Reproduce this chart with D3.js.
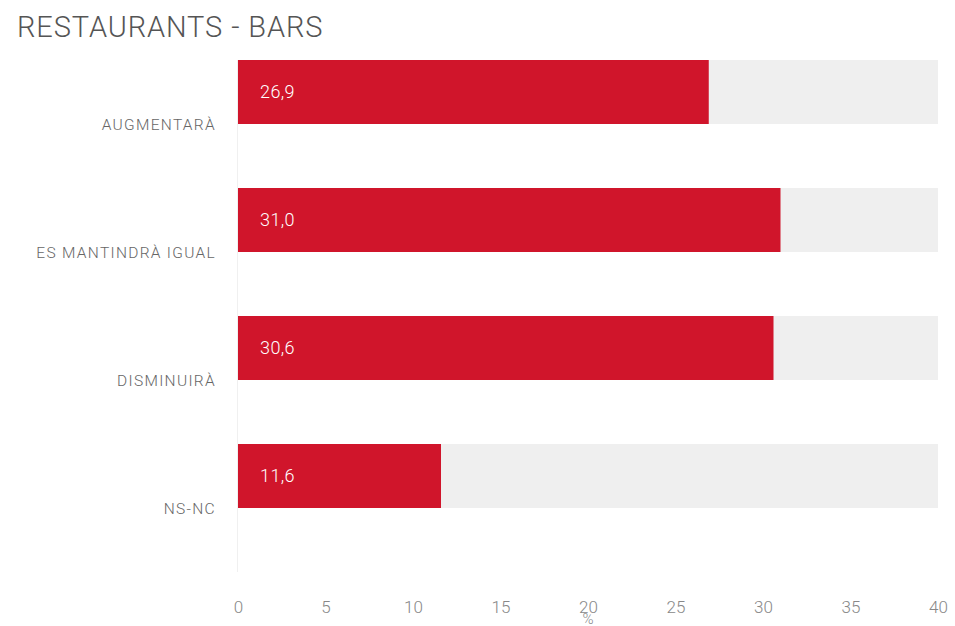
<!DOCTYPE html>
<html><head><meta charset="utf-8">
<script src="https://cdn.jsdelivr.net/npm/d3@7"></script>
<style>body{margin:0;background:#fff;}svg{display:block;font-family:Roboto,sans-serif;}</style>
</head><body>
<script>
const title = "RESTAURANTS - BARS";
const categories = ["AUGMENTARÀ", "ES MANTINDRÀ IGUAL", "DISMINUIRÀ", "NS-NC"];
const values = [26.9, 31.0, 30.6, 11.6];
const maxValue = 40;
const tickValues = [0, 5, 10, 15, 20, 25, 30, 35, 40];
const axisLabel = "%";

const W = 955, H = 626;
const m = {left: 238, right: 17, top: 60, bottom: 54};
const svg = d3.select("body").append("svg").attr("width", W).attr("height", H);

svg.append("text").attr("x", 17).attr("y", 37).text(title)
  .attr("fill", "#555").style("font-weight", 300).attr("font-size", 29).attr("letter-spacing", 0.9);

const x = d3.scaleLinear().domain([0, maxValue]).range([m.left, W - m.right]);
const y = d3.scaleBand().domain(categories).range([m.top, H - m.bottom]).paddingInner(0).paddingOuter(0);

svg.append("line").attr("x1", m.left - 0.5).attr("x2", m.left - 0.5)
  .attr("y1", m.top).attr("y2", H - m.bottom).attr("stroke", "#f0f0f0");

const barH = y.bandwidth() / 2;
const g = svg.append("g");
g.selectAll(".bg").data(categories).join("rect")
  .attr("x", x(0)).attr("y", d => y(d)).attr("width", x(maxValue) - x(0)).attr("height", barH)
  .attr("fill", "#efefef");
g.selectAll(".bar").data(values).join("rect")
  .attr("x", x(0)).attr("y", (d, i) => y(categories[i])).attr("width", d => x(d) - x(0)).attr("height", barH)
  .attr("fill", "#d0152b");
g.selectAll(".val").data(values).join("text")
  .attr("x", x(0) + 22).attr("y", (d, i) => y(categories[i]) + barH / 2 + 6)
  .text(d => d.toFixed(1).replace(".", ","))
  .attr("fill", "#fff").attr("font-size", 18).style("font-weight", 300).attr("letter-spacing", 0.4);

g.selectAll(".cat").data(categories).join("text")
  .attr("x", 216).attr("y", d => y(d) + y.bandwidth() / 2 + 6)
  .attr("text-anchor", "end").text(d => d)
  .attr("fill", "#666").attr("font-size", 15.5).style("font-weight", 300)
  .attr("letter-spacing", 1.3);

const axis = d3.axisBottom(x).tickValues(tickValues).tickSize(0).tickPadding(0);
const ax = svg.append("g").attr("transform", `translate(0,${H - m.bottom + 29})`).call(axis);
ax.select(".domain").remove();
ax.selectAll("text").attr("fill", "#888").attr("font-size", 17).style("font-weight", 300)
  .style("font-family", "Roboto, sans-serif");

svg.append("text").attr("x", x(20)).attr("y", 624).attr("text-anchor", "middle").text(axisLabel)
  .attr("fill", "#888").attr("font-size", 15).style("font-weight", 300);
</script>
</body></html>
